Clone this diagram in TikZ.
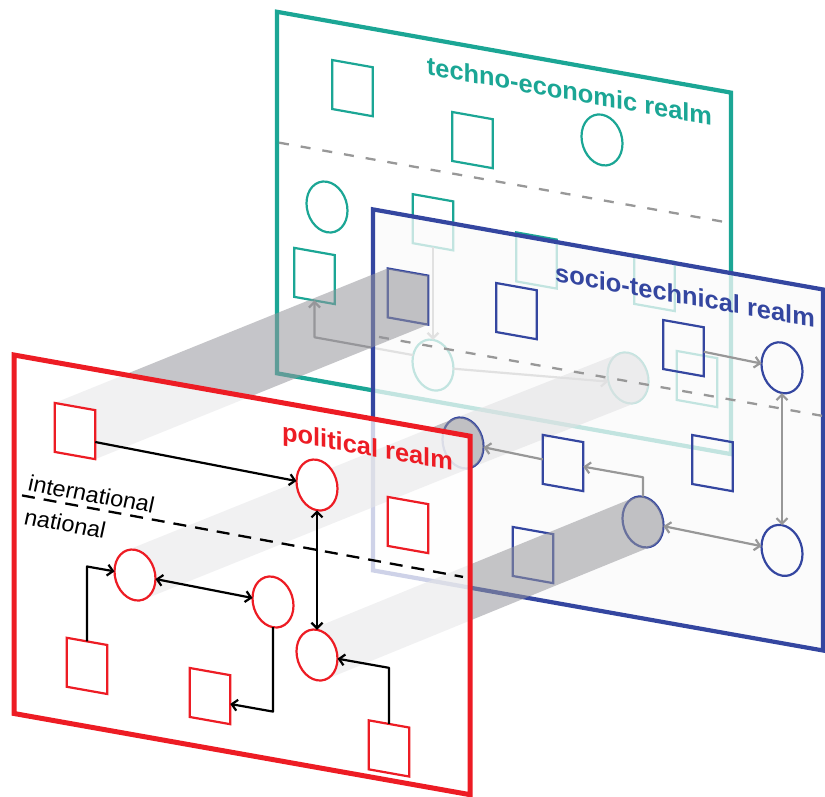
\documentclass[tikz,border=0pt]{standalone}
\usepackage{fontspec}
\setmainfont{Liberation Sans}
\newfontfamily\slantedlabelfont{Liberation Sans}[FakeSlant=0.21]
\usetikzlibrary{shapes.geometric,arrows.meta,calc}
\definecolor{tealc}{RGB}{27,166,149}
\definecolor{bluec}{RGB}{52,70,160}
\definecolor{redc}{RGB}{237,28,36}
\definecolor{arrgray}{RGB}{152,152,152}
\definecolor{beamc}{RGB}{150,150,156}
\tikzset{
  bb/.tip={Straight Barb[length=5.5pt,width=11pt]},
  sq/.style={draw, rectangle, minimum width=40.5pt, minimum height=49pt, inner sep=0pt, outer sep=0pt, line width=2.2pt, transform shape},
  el/.style={draw, ellipse, minimum width=41pt, minimum height=50.5pt, inner sep=0pt, outer sep=0pt, line width=2.2pt, transform shape},
  endcap/.style={fill=gray!9},
  realmtitle/.style={font={\fontsize{25.4pt}{28pt}\selectfont\bfseries}, transform shape, anchor=base, inner sep=0pt},
  scalelabel/.style={font={\slantedlabelfont\fontsize{23pt}{26pt}\selectfont}, transform shape, anchor=base west, inner sep=0pt},
  conn/.style={line width=2.2pt, line join=round, -bb},
  dconn/.style={line width=2.2pt, line join=round, bb-bb},
  garr/.style={conn, draw=arrgray},
  gdarr/.style={dconn, draw=arrgray},
  karr/.style={conn, draw=black},
  kdarr/.style={dconn, draw=black},
  gdash/.style={draw=arrgray, line width=2.3pt, dash pattern=on 10pt off 12pt},
  kdash/.style={draw=black, line width=2.3pt, dash pattern=on 13pt off 9pt},
  beam/.style={fill=beamc, fill opacity=0.55},
  panel/.style={line width=4.2pt, line join=miter}
}
\begin{document}
\begin{tikzpicture}[x=1pt,y=1pt]
\useasboundingbox (0,0) rectangle (825,-797);
\begin{scope}[cm={1,-0.178,0,1,(0,0)}]
% beam end points on the front planes
\coordinate (pR1) at (75,-417.7);
\coordinate (pR4) at (317,-598.6);
\coordinate (pR6) at (135,-551);
\coordinate (pB5) at (463,-360.6);

% ---------------- techno-economic realm ----------------
\draw[panel, draw=tealc, fill=white] (277,37.5) -- (731,37.5) -- (731,-324) -- (277,-324) -- cycle;
\node[realmtitle, text=tealc] (tT) at (569.5,1.3) {techno-economic realm};
\draw[gdash] (279,-93) -- (729,-93);
\node[sq, draw=tealc] (T1) at (352.5,-25.4) {};
\node[sq, draw=tealc] (T2) at (472.5,-56) {};
\node[el, draw=tealc] (T3) at (602,-32.8) {};
\node[el, draw=tealc] (T4) at (327,-148.8) {};
\node[sq, draw=tealc] (T5) at (433,-145.2) {};
\node[sq, draw=tealc] (T7) at (314.5,-220) {};
\node[sq, draw=tealc] (T8) at (536.5,-165) {};
\node[sq, draw=tealc] (T9) at (654.5,-166.5) {};
\node[sq, draw=tealc] (T10) at (697,-255) {};
\node[el, draw=tealc] (T6) at (433,-288) {};
\node[el, draw=tealc] (T11) at (628,-266.2) {};
\draw[garr] (T5.south) -- (T6.north);
\coordinate (c1) at (314.5,-281.3);
\draw[garr] (T6.162) -- (c1) -- (T7.south);
\draw[garr] (T6.east) -- (T11.200);
% beam socio-technical -> techno-economic
\fill[beam] ($(pB5)+(-8.74,22.88)$) -- ($(pB5)+(8.74,-22.88)$) -- ($(T11)+(8.74,-22.88)$) -- ($(T11)+(-8.74,22.88)$) -- cycle (T11.center) ellipse [x radius=20.5, y radius=25.25];

% ---------------- socio-technical realm ----------------
\draw[panel, draw=bluec, fill=black!2, fill opacity=0.75] (373,-143) -- (823,-143) -- (823,-504) -- (373,-504) -- cycle;
\node[realmtitle, text=bluec] (tB) at (685,-182.5) {socio-technical realm};
\draw[gdash] (379,-269.5) -- (822,-269.5);
\node[sq, draw=bluec, endcap] (B1) at (408,-223.9) {};
\node[sq, draw=bluec] (B2) at (516.5,-219.2) {};
\node[sq, draw=bluec] (B3) at (683.5,-226.5) {};
\node[el, draw=bluec] (B4) at (782,-228.6) {};
\node[el, draw=bluec, endcap] (B5) at (pB5) {};
\node[sq, draw=bluec] (B6) at (563,-362.8) {};
\node[sq, draw=bluec] (B7) at (712.5,-336.3) {};
\node[el, draw=bluec, endcap] (B8) at (643,-407.5) {};
\node[el, draw=bluec] (B9) at (782,-411.2) {};
\node[sq, draw=bluec] (B10) at (533,-460.2) {};
\draw[garr] (B3.east) -- (B4);
\draw[garr] (B6.west) -- (B5);
\coordinate (c2) at (643,-362.8);
\draw[garr] (B8.north) -- (c2) -- (B6.east);
\draw[gdarr] (B8) -- (B9);
\draw[gdarr] (B4.south) -- (B9.north);

% beams political -> socio-technical
\fill[beam] ($(pR1)+(-20.25,24.5)$) -- ($(pR1)+(-20.25,-24.5)$) -- ($(pR1)+(20.25,-24.5)$) -- (B1.south east) -- (B1.north east) -- (B1.north west) -- cycle;
\fill[beam] ($(pR6)+(-8.74,22.88)$) -- ($(pR6)+(8.74,-22.88)$) -- ($(B5)+(8.74,-22.88)$) -- ($(B5)+(-8.74,22.88)$) -- cycle (B5.center) ellipse [x radius=20.5, y radius=25.25];
\fill[beam] ($(pR4)+(-8.74,22.88)$) -- ($(pR4)+(8.74,-22.88)$) -- ($(B8)+(8.74,-22.88)$) -- ($(B8)+(-8.74,22.88)$) -- cycle (B8.center) ellipse [x radius=20.5, y radius=25.25];

% ---------------- political realm ----------------
\draw[panel, draw=redc, line width=5pt, fill=white, fill opacity=0.76] (14,-352.5) -- (470,-352.5) -- (470,-711) -- (14,-711) -- cycle;
\node[realmtitle, text=redc] (tR) at (367.5,-390) {political realm};
\node[scalelabel] (lInt) at (27,-486) {international};
\node[scalelabel] (lNat) at (23,-520) {national};
\draw[kdash] (22,-491.5) -- (463,-494.5);
\node[sq, draw=redc, fill=white] (R1) at (pR1) {};
\node[el, draw=redc, fill=white] (R2) at (317,-428.6) {};
\node[sq, draw=redc, fill=white] (R3) at (408,-452.4) {};
\node[el, draw=redc, fill=white] (R4) at (pR4) {};
\node[sq, draw=redc, fill=white] (R5) at (389,-679.2) {};
\node[el, draw=redc, fill=white] (R6) at (pR6) {};
\node[el, draw=redc, fill=white] (R7) at (273,-553.4) {};
\node[sq, draw=redc, fill=white] (R8) at (87,-650.4) {};
\node[sq, draw=redc, fill=white] (R9) at (210,-658.7) {};
\draw[karr] (R1.-20) -- (R2);
\draw[kdarr] (R2.south) -- (R4.north);
\coordinate (c3) at (389,-598.6);
\draw[karr] (R5.north) -- (c3) -- (R4.east);
\coordinate (c4) at (87,-551);
\draw[karr] (R8.north) -- (c4) -- (R6.west);
\draw[kdarr] (R6) -- (R7);
\coordinate (c5) at (273,-663);
\draw[karr] (R7.south) -- (c5) -- (R9.-12);
\end{scope}
\end{tikzpicture}
\end{document}
